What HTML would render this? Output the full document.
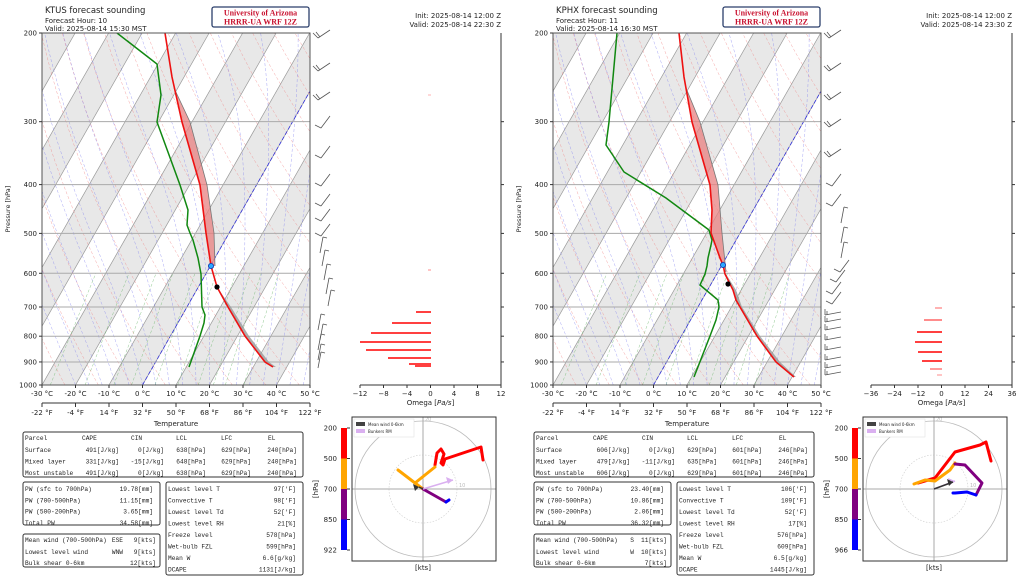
<!DOCTYPE html>
<html><head><meta charset="utf-8"><style>
html,body{margin:0;padding:0;background:#fff;overflow:hidden;}
svg{display:block;font-family:"DejaVu Sans","Liberation Sans",sans-serif;}
.m{font-family:"Liberation Mono","DejaVu Sans Mono",monospace;font-size:6.2px;fill:#222;}
</style></head><body>
<svg id="s" width="1024" height="577" viewBox="0 0 1024 577" xmlns="http://www.w3.org/2000/svg"></svg>
<script>
const S=document.getElementById('s');let H='';
function yP(p){return 385-(Math.log(1000/p)/Math.log(5))*352;}
function pts(a,ox){return a.map(q=>(q[0]+ox).toFixed(1)+','+q[1].toFixed(1)).join(' ');}
function txt(x,y,s,o){o=o||{};H+=`<text x="${x}" y="${y}" font-size="${o.fs||7.5}" text-anchor="${o.a||'start'}" fill="${o.c||'#222'}" ${o.extra||''}>${s}</text>`;}
function panel(ox,D){
 const L=42+ox,R=310+ox,T=33,B=385;
 const xT=(t,p)=>L+(t+30)*3.35+(B-yP(p))*0.57;
 const cid='c'+ox;
 H+=`<clipPath id="${cid}"><rect x="${L}" y="${T}" width="${R-L}" height="${B-T}"/></clipPath><g clip-path="url(#${cid})">`;
 for(let t=-110;t<=50;t+=20){
   H+=`<polygon points="${xT(t,1000)},${B} ${xT(t+10,1000)},${B} ${xT(t+10,200)},${T} ${xT(t,200)},${T}" fill="#e8e8e8"/>`;
 }
 for(let t=-110;t<=60;t+=10){H+=`<line x1="${xT(t,1000)}" y1="${B}" x2="${xT(t,200)}" y2="${T}" stroke="#999" stroke-width="0.7"/>`;}
 for(let th=240;th<=480;th+=10){let a=[];for(let p=1000;p>=200;p-=20){a.push([xT(th*Math.pow(p/1000,0.286)-273.15,p),yP(p)]);}
   H+=`<polyline points="${pts(a,0)}" fill="none" stroke="#f08080" stroke-width="0.5" stroke-dasharray="3,2" opacity="0.7"/>`;}
 for(let t0=-20;t0<=48;t0+=4){let Tk=t0+273.15,a=[];for(let p=1000;p>=200;p-=5){
   const tc=Tk-273.15;const es=6.112*Math.exp(17.67*tc/(tc+243.5));const rs=0.622*es/(p-es);
   const d=(287*Tk+2.5e6*rs)/(p*(1004+2.5e6*2.5e6*rs*0.622/(287*Tk*Tk)));
   a.push([xT(Tk-273.15,p),yP(p)]);Tk-=d*5;}
   H+=`<polyline points="${pts(a,0)}" fill="none" stroke="#8080f0" stroke-width="0.5" stroke-dasharray="3,2" opacity="0.7"/>`;}
 [0.4,1,2,3,5,8,12,16,20,28].forEach(w=>{let a=[];for(let p=1000;p>=600;p-=20){const e=w/1000*p/(0.622+w/1000);const l=Math.log(e/6.112);a.push([xT(243.5*l/(17.67-l),p),yP(p)]);}
   H+=`<polyline points="${pts(a,0)}" fill="none" stroke="#60b060" stroke-width="0.5" stroke-dasharray="3,2" opacity="0.7"/>`;});
 H+=`<line x1="${xT(0,1000)}" y1="${B}" x2="${xT(0,200)}" y2="${T}" stroke="#3333dd" stroke-width="0.8" stroke-dasharray="4,2"/>`;
 [300,400,500,600,700,800,900].forEach(p=>{H+=`<line x1="${L}" y1="${yP(p)}" x2="${R}" y2="${yP(p)}" stroke="#aaa" stroke-width="1"/>`;});
 H+=`<polygon points="${pts(D.par.concat(D.tempU.slice().reverse()),ox)}" fill="#e88080" opacity="0.75"/>`;
 H+=`<polygon points="${pts(D.parL.concat(D.tempL.slice().reverse()),ox)}" fill="#999" opacity="0.8"/>`;
 H+=`<polyline points="${pts(D.par,ox)}" fill="none" stroke="#777" stroke-width="0.8"/>`;
 H+=`<polyline points="${pts(D.dew,ox)}" fill="none" stroke="#118811" stroke-width="1.5"/>`;
 H+=`<polyline points="${pts(D.temp,ox)}" fill="none" stroke="#ee1111" stroke-width="1.6"/>`;
 H+=`<circle cx="${D.lfc[0]+ox}" cy="${D.lfc[1]}" r="2.6" fill="#29a8ff" stroke="#1133aa" stroke-width="0.8"/>`;
 H+=`<circle cx="${D.lcl[0]+ox}" cy="${D.lcl[1]}" r="2.6" fill="#000"/>`;
 H+='</g>';
 H+=`<rect x="${L}" y="${T}" width="${R-L}" height="${B-T}" fill="none" stroke="#555" stroke-width="1"/>`;
 [200,300,400,500,600,700,800,900,1000].forEach(p=>{const y=yP(p);H+=`<line x1="${L-3}" y1="${y}" x2="${L}" y2="${y}" stroke="#333"/>`;txt(L-5,y+2.5,p,{a:'end',fs:7});});
 txt(10+ox,209,'Pressure [hPa]',{fs:6.5,a:'middle',extra:`transform="rotate(-90 ${10+ox} 209)"`});
 const F=[-22,-4,14,32,50,68,86,104,122];
 for(let i=0;i<9;i++){const x=L+i*33.5;H+=`<line x1="${x}" y1="${B}" x2="${x}" y2="${B+3}" stroke="#333"/>`;txt(x,B+11,(i*10-30)+' °C',{a:'middle',fs:7});
   H+=`<line x1="${x}" y1="403" x2="${x}" y2="407" stroke="#333"/>`;txt(x,415,F[i]+' °F',{a:'middle',fs:7});}
 H+=`<line x1="${L}" y1="403" x2="${R}" y2="403" stroke="#333"/>`;
 txt(176+ox,426,'Temperature',{a:'middle',fs:7});
 txt(45+ox,13,D.st+' forecast sounding',{fs:8.5});
 txt(45+ox,23,'Forecast Hour: '+D.fh,{fs:7});
 txt(45+ox,31,'Valid: 2025-08-14 '+D.valid+' MST',{fs:7});
 H+=`<rect x="${212+ox}" y="7" width="97" height="20" rx="2" fill="#fff" stroke="#2b3f6b" stroke-width="1.3"/>`;
 txt(260.5+ox,15.5,'University of Arizona',{a:'middle',fs:8,c:'#c8102e',extra:'font-family="Liberation Serif,serif" font-weight="bold"'});
 txt(260.5+ox,24.5,'HRRR-UA WRF 12Z',{a:'middle',fs:8,c:'#c8102e',extra:'font-family="Liberation Serif,serif" font-weight="bold"'});
 txt(501+ox,18,'Init: 2025-08-14 12:00 Z',{a:'end',fs:7});
 txt(501+ox,27,'Valid: 2025-08-14 '+D.vz+' Z',{a:'end',fs:7});
 D.barbs.forEach(b=>{const x=b[0]+ox,y=b[1],k=b[2];
   if(k==0){H+=`<path d="M${x+2},${y+5} L${x+14},${y-3} M${x+2},${y+5} L${x-3},${y} M${x+4},${y+4} L${x},${y-1}" stroke="#555" fill="none" stroke-width="0.8"/>`;}
   else if(k==1){H+=`<path d="M${x+3},${y+6} L${x+12},${y-6} M${x+3},${y+6} L${x-3},${y+3}" stroke="#555" fill="none" stroke-width="0.8"/>`;}
   else if(k==2){H+=`<path d="M${x},${y+8} L${x+3},${y-8} M${x+3},${y-8} L${x+7},${y-7}" stroke="#555" fill="none" stroke-width="0.8"/>`;}
   else {H+=`<path d="M${x-2},${y} L${x+14},${y-3} M${x-2},${y} L${x-2},${y-6} M${x},${y} L${x},${y-4}" stroke="#555" fill="none" stroke-width="0.8"/>`;}
 });
 const oL=360+ox,oR=501+ox;
 H+=`<line x1="${oR}" y1="${T}" x2="${oR}" y2="${B}" stroke="#333"/><line x1="${oL}" y1="${B}" x2="${oR}" y2="${B}" stroke="#333"/>`;
 [300,400,500,600,700,800,900].forEach(p=>{H+=`<line x1="${oR}" y1="${yP(p)}" x2="${oR+3}" y2="${yP(p)}" stroke="#333"/>`;});
 D.ot.forEach((v,i)=>{const x=oL+i*(oR-oL)/6;H+=`<line x1="${x}" y1="${B}" x2="${x}" y2="${B+3}" stroke="#333"/>`;txt(x,B+11,v,{a:'middle',fs:7});});
 txt((oL+oR)/2,B+20,'Omega [<tspan font-style="italic">Pa/s</tspan>]',{a:'middle',fs:7});
 D.om.forEach(b=>{H+=`<line x1="${b[1]+ox}" y1="${b[0]}" x2="${D.o0+ox}" y2="${b[0]}" stroke="#f00" stroke-width="1.5" opacity="${b[2]||1}"/>`;});
 H+=`<g fill="none" stroke="#333" stroke-width="1"><rect x="${23+ox}" y="432" width="280" height="45" rx="2"/><rect x="${23+ox}" y="482" width="137" height="43" rx="2"/><rect x="${166+ox}" y="482" width="137" height="93" rx="2"/><rect x="${23+ox}" y="534" width="137" height="33" rx="2"/></g>`;
 const m=(x,y,s,a)=>{H+=`<text class="m" x="${x+ox}" y="${y}" text-anchor="${a||'start'}">${s}</text>`;};
 m(25,440,'Parcel');m(82,440,'CAPE');m(131,440,'CIN');m(176,440,'LCL');m(221,440,'LFC');m(268,440,'EL');
 ['Surface','Mixed layer','Most unstable'].forEach((n,i)=>{const y=452+i*11.5,r=D.t1[i];m(25,y,n);m(119,y,r[0],'end');m(164,y,r[1],'end');m(206,y,r[2],'end');m(251,y,r[3],'end');m(297,y,r[4],'end');});
 ['PW (sfc to 700hPa)','PW (700-500hPa)','PW (500-200hPa)','Total PW'].forEach((n,i)=>{const y=491+i*11.3;m(25,y,n);m(153,y,D.pw[i],'end');});
 ['Lowest level T','Convective T','Lowest level Td','Lowest level RH','Freeze level','Wet-bulb FZL','Mean W','DCAPE'].forEach((n,i)=>{const y=491+i*11.5;m(168,y,n);m(296,y,D.t3[i],'end');});
 m(25,542,'Mean wind (700-500hPa)');m(25,554,'Lowest level wind');m(25,565,'Bulk shear 0-6km');
 m(123,542,D.w[0],'end');m(123,554,D.w[1],'end');m(156,542,D.w[2],'end');m(156,554,D.w[3],'end');m(156,565,D.w[4],'end');
 const cx=423+ox,cy=489;
 H+=`<rect x="${341+ox}" y="428" width="6" height="30.5" fill="#f00"/><rect x="${341+ox}" y="458.5" width="6" height="30.5" fill="#ffa500"/><rect x="${341+ox}" y="489" width="6" height="30.5" fill="#800080"/><rect x="${341+ox}" y="519.5" width="6" height="30.5" fill="#00f"/>`;
 ['200','500','700','850',D.sfc].forEach((v,i)=>{const y=428+i*30.5;H+=`<line x1="${347+ox}" y1="${y}" x2="${350+ox}" y2="${y}" stroke="#333"/>`;txt(337+ox,y+2.5,v,{a:'end',fs:7});});
 txt(318+ox,489,'[hPa]',{a:'middle',fs:7,extra:`transform="rotate(-90 ${318+ox} 489)"`});
 H+=`<clipPath id="h${ox}"><rect x="${352+ox}" y="417" width="144" height="144"/></clipPath><g clip-path="url(#h${ox})">`;
 H+=`<circle cx="${cx}" cy="${cy}" r="68" fill="none" stroke="#bbb" stroke-width="0.8"/><circle cx="${cx}" cy="${cy}" r="34" fill="none" stroke="#ccc" stroke-width="0.6" stroke-dasharray="1.5,1.5"/>`;
 H+=`<line x1="${352+ox}" y1="${cy}" x2="${496+ox}" y2="${cy}" stroke="#aaa"/><line x1="${cx}" y1="417" x2="${cx}" y2="561" stroke="#aaa"/>`;
 txt(cx+36,cy-2,'10',{fs:5,c:'#bbb'});txt(cx+2,421,'20',{fs:5,c:'#bbb'});
 [['red','#f00'],['or','#ffa500'],['pu','#800080'],['bl','#00f']].forEach(c=>{D.h[c[0]].forEach(seg=>{H+=`<polyline points="${pts(seg,ox)}" fill="none" stroke="${c[1]}" stroke-width="3" stroke-linejoin="round" stroke-linecap="round"/>`;});});
 H+=`<line x1="${cx}" y1="${cy}" x2="${D.bk[0]+ox}" y2="${D.bk[1]}" stroke="#dab0f0" stroke-width="1.5"/><polygon points="${D.bk[0]+ox},${D.bk[1]} ${D.bk[0]+ox-7},${D.bk[1]-3} ${D.bk[0]+ox-5},${D.bk[1]+4}" fill="#dab0f0"/>`;
 H+=`<line x1="${cx}" y1="${cy}" x2="${D.mw[0]+ox}" y2="${D.mw[1]}" stroke="#333" stroke-width="1.5"/><polygon points="${D.mw[0]+ox},${D.mw[1]} ${D.mw[0]+ox-6},${D.mw[1]-3} ${D.mw[0]+ox-4},${D.mw[1]+4}" fill="#333"/>`;
 H+='</g>';
 H+=`<rect x="${352+ox}" y="417" width="144" height="144" fill="none" stroke="#333"/>`;
 H+=`<rect x="${354+ox}" y="419" width="60" height="18" fill="#fff" stroke="#ddd" stroke-width="0.5"/><rect x="${356+ox}" y="422" width="9" height="4" fill="#444"/><rect x="${356+ox}" y="429" width="9" height="4" fill="#dab0f0"/>`;
 txt(368+ox,426,'Mean wind 0-6km',{fs:4});txt(368+ox,433,'Bunkers RM',{fs:4});
 txt(cx,570,'[kts]',{a:'middle',fs:7});
}
const A={st:'KTUS',fh:10,valid:'15:30',vz:'22:30',sfc:'922',
 temp:[[165,33],[172,77],[182,122],[200,185],[206,233],[211,266],[217,287],[228,307],[245,336],[265,362],[273,367]],
 tempU:[[174,88],[182,122],[200,185],[206,233],[211,266]],
 par:[[174,88],[190,122],[207,185],[214,233],[215,266]],
 tempL:[[217,287],[228,307],[245,336],[265,362],[273,367]],
 parL:[[217,287],[231,307],[249,336],[269,362],[276,367]],
 dew:[[117,33],[157,64],[161,95],[157,122],[180,185],[188,210],[187,225],[190,233],[193,240],[198,258],[201,274],[202,307],[205,315],[204,323],[200,336],[189,367]],
 lfc:[211,266],lcl:[217,287],
 barbs:[[316,33,0],[316,66,0],[316,95,0],[318,122,1],[318,152,1],[318,180,1],[318,200,1],[318,215,1],[318,230,1],[320,245,2],[322,258,2],[324,272,2],[326,286,2],[328,298,2],[318,322,2],[320,332,2],[318,342,2],[318,352,2],[318,360,2]],
 ot:['−12','−8','−4','0','4','8','12'],o0:431,
 om:[[312,416],[323,392],[333,371],[342,360],[350,366],[358,388],[364,409],[366,415],[270,428,0.3],[95,428,0.2]],
 t1:[['491[J/kg]','0[J/kg]','638[hPa]','629[hPa]','240[hPa]'],['331[J/kg]','-15[J/kg]','648[hPa]','629[hPa]','240[hPa]'],['491[J/kg]','0[J/kg]','638[hPa]','629[hPa]','240[hPa]']],
 pw:['19.78[mm]','11.15[mm]','3.65[mm]','34.58[mm]'],
 t3:["97['F]","98['F]","52['F]",'21[%]','578[hPa]','599[hPa]','6.6[g/kg]','1131[J/kg]'],
 w:['ESE','WNW','9[kts]','9[kts]','12[kts]'],
 h:{red:[[[435,465],[437,453],[441,449],[444,454],[441,463],[443,465],[445,459],[481,447],[483,460]]],or:[[[435,467],[415,483],[398,470]],[[415,483],[423,489]]],pu:[[[423,489],[446,502]]],bl:[[[446,502],[449,500]]]},
 bk:[453,480],mw:[419,487]};
const B={st:'KPHX',fh:11,valid:'16:30',vz:'23:30',sfc:'966',
 temp:[[168,33],[173,77],[181,122],[199,185],[201,210],[200,233],[209,258],[212,265],[214,274],[222,290],[225,300],[229,307],[246,336],[265,362],[283,377]],
 tempU:[[175,88],[181,122],[199,185],[201,210],[200,233],[209,258],[212,265],[214,272]],
 par:[[175,88],[189,122],[207,185],[211,233],[215,272]],
 tempL:[[214,274],[222,290],[225,300],[229,307],[246,336],[265,362],[283,377]],
 parL:[[215,274],[225,290],[231,307],[249,336],[269,362],[285,377]],
 dew:[[106,33],[98,122],[95,145],[113,172],[155,198],[198,230],[201,240],[200,245],[197,258],[196,266],[194,274],[189,285],[207,300],[208,307],[205,320],[199,336],[183,377]],
 lfc:[212,265],lcl:[217,284],
 barbs:[[316,33,0],[316,66,0],[316,95,0],[316,122,0],[316,152,0],[318,180,1],[318,200,1],[330,215,2],[330,235,2],[330,250,2],[326,266,1],[322,276,1],[318,288,1],[318,298,1],[316,315,3],[316,322,3],[316,330,3],[316,340,3],[316,350,3],[316,360,3],[316,368,3],[316,375,3]],
 ot:['−36','−24','−12','0','12','24','36'],o0:431,
 om:[[308,424,0.4],[320,413,0.6],[332,406],[342,404],[352,407],[361,411],[369,419,0.5],[375,426,0.3]],
 t1:[['606[J/kg]','0[J/kg]','629[hPa]','601[hPa]','246[hPa]'],['479[J/kg]','-11[J/kg]','635[hPa]','601[hPa]','246[hPa]'],['606[J/kg]','0[J/kg]','629[hPa]','601[hPa]','246[hPa]']],
 pw:['23.40[mm]','10.86[mm]','2.06[mm]','36.32[mm]'],
 t3:["106['F]","109['F]","52['F]",'17[%]','576[hPa]','609[hPa]','6.5[g/kg]','1445[J/kg]'],
 w:['S','W','11[kts]','10[kts]','7[kts]'],
 h:{red:[[[407,483],[424,478],[444,452],[469,445],[475,442],[480,461]]],or:[[[403,484],[414,480],[424,481],[439,470],[444,463]]],pu:[[[444,464],[454,465],[471,483],[465,495]]],bl:[[[465,495],[456,492],[444,493],[442,493]]]},
 bk:[444,481],mw:[442,482]};
panel(0,A);panel(511,B);
S.innerHTML=H;
</script>
</body></html>
